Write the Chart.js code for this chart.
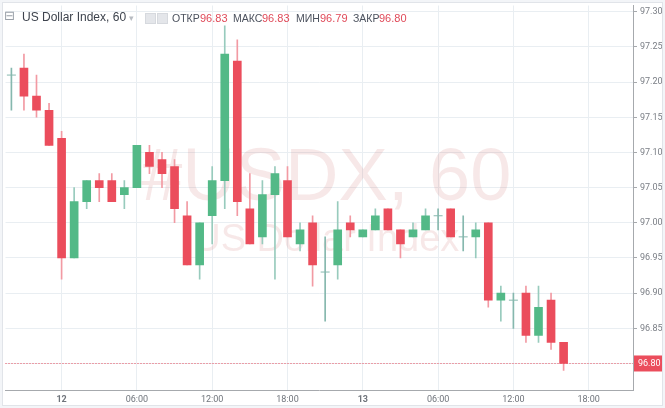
<!DOCTYPE html>
<html>
<head>
<meta charset="utf-8">
<script src="https://cdn.jsdelivr.net/npm/chart.js@4.4.0/dist/chart.umd.min.js"></script>
<style>
html, body { margin: 0; padding: 0; background: #fff; }
#wrap { position: relative; width: 665px; height: 408px; }
#hdr { position: absolute; left: 0; top: 0; width: 665px; height: 30px; pointer-events: none;
       font-family: "Liberation Sans", Arial, sans-serif; }
#hdr span { position: absolute; white-space: nowrap; line-height: 12px; }
.lbl { top: 12px; font-size: 10.5px; color: #4c525e; }
.val { top: 12px; font-size: 11px; color: #e04a59; }
.ico { top: 13px; width: 9px; height: 9px; background: #e4e6ea; border: 1px solid #d6d9de; }
</style>
</head>
<body>
<div id="wrap">
  <canvas id="myChart" width="665" height="408"></canvas>
  <div id="hdr">
    <span style="left:4px;top:10px;font-size:13px;color:#9aa0a8;font-family:'DejaVu Sans'">⊟</span>
    <span style="left:22px;top:11px;font-size:12px;color:#3d434d">US Dollar Index, 60</span>
    <span style="left:129px;top:12px;font-size:9px;color:#b8bcc2">▾</span>
    <span class="ico" style="left:145px"></span>
    <span class="ico" style="left:157px"></span>
    <span class="lbl" style="left:172px">ОТКР</span><span class="val" style="left:200px">96.83</span>
    <span class="lbl" style="left:233px">МАКС</span><span class="val" style="left:262px">96.83</span>
    <span class="lbl" style="left:296px">МИН</span><span class="val" style="left:320px">96.79</span>
    <span class="lbl" style="left:353px">ЗАКР</span><span class="val" style="left:379px">96.80</span>
  </div>
</div>
<script>
// hourly candles, hours counted from 12th 00:00
const hours  = [-4, -3, -2, -1, 0, 1, 2, 3, 4, 5, 6, 7, 8, 9, 10, 11, 12, 13, 14, 15, 16, 17, 18, 19, 20, 21, 22,
                23, 24, 25, 26, 27, 28, 29, 30, 31, 32, 33, 34, 35, 36, 37, 38, 39, 40];
const opens  = [97.21, 97.22, 97.18, 97.16, 97.12, 96.95, 97.03, 97.06, 97.06, 97.04, 97.05, 97.10, 97.09, 97.08, 97.01,
                96.94, 97.01, 97.06, 97.23, 97.02, 96.98, 97.04, 97.06, 96.97, 97.00, 96.93, 96.94, 97.00, 96.98, 96.99,
                97.02, 96.99, 96.98, 96.99, 97.01, 97.02, 96.98, 96.98, 97.00, 96.89, 96.89, 96.90, 96.84, 96.89, 96.83];
const highs  = [97.22, 97.24, 97.21, 97.17, 97.13, 97.05, 97.06, 97.07, 97.07, 97.06, 97.11, 97.11, 97.10, 97.09, 97.03,
                97.00, 97.08, 97.28, 97.26, 97.07, 97.06, 97.08, 97.08, 97.00, 97.01, 96.98, 97.03, 97.01, 96.99, 97.02,
                97.02, 96.99, 97.00, 97.02, 97.02, 97.02, 97.01, 97.00, 97.00, 96.91, 96.90, 96.91, 96.91, 96.90, 96.83];
const lows   = [97.16, 97.16, 97.15, 97.11, 96.92, 96.95, 97.02, 97.03, 97.03, 97.02, 97.05, 97.07, 97.05, 97.00, 96.94,
                96.92, 96.97, 97.02, 97.01, 96.97, 96.97, 96.92, 96.98, 96.96, 96.91, 96.86, 96.92, 96.98, 96.98, 96.99,
                96.99, 96.95, 96.98, 96.99, 96.99, 96.98, 96.96, 96.95, 96.88, 96.86, 96.85, 96.83, 96.83, 96.82, 96.79];
const closes = [97.21, 97.18, 97.16, 97.11, 96.95, 97.03, 97.06, 97.05, 97.03, 97.05, 97.11, 97.08, 97.07, 97.02, 96.94,
                97.00, 97.06, 97.24, 97.03, 96.97, 97.04, 97.07, 96.98, 96.99, 96.94, 96.93, 96.99, 96.99, 96.99, 97.01,
                96.99, 96.97, 96.99, 97.01, 97.01, 96.98, 96.98, 96.99, 96.89, 96.90, 96.89, 96.84, 96.88, 96.83, 96.80];

const priceTicks = [96.80, 96.85, 96.90, 96.95, 97.00, 97.05, 97.10, 97.15, 97.20, 97.25, 97.30];
const timeTicks  = [0, 6, 12, 18, 24, 30, 36, 42];
const timeLabels = ['12', '06:00', '12:00', '18:00', '13', '06:00', '12:00', '18:00'];

const UP = '#53b987', DOWN = '#eb4d5c';
const UP_WICK = '#98cbbd', DOWN_WICK = '#f29aa3', DOJI = '#86b8ae';
const FONT = "Roboto, 'Liberation Sans', sans-serif";

let bodies = [], bodyColors = [], wicks = [], wickColors = [], dojis = [];
hours.forEach((h, i) => {
    let o = opens[i], c = closes[i];
    wicks.push({x: h, y: [lows[i], highs[i]]});
    if (o === c) {
        dojis.push({x: h, y: o});
        wickColors.push(DOJI);
    } else {
        bodies.push({x: h, y: [o, c]});
        bodyColors.push(c > o ? UP : DOWN);
        wickColors.push(c > o ? UP_WICK : DOWN_WICK);
    }
});
const lastClose = closes[closes.length - 1];

const decor = {
    id: 'decor',
    beforeDraw(chart) {
        const ctx = chart.ctx;
        ctx.save();
        ctx.fillStyle = '#f3f5f8';
        ctx.fillRect(0, 0, chart.width, chart.height);
        ctx.fillStyle = '#fff';
        ctx.fillRect(3, 3, chart.width - 6, chart.height - 6);
        ctx.restore();
    },
    beforeDatasetsDraw(chart) {
        const ctx = chart.ctx, a = chart.chartArea;
        const cx = (a.left + a.right) / 2 + 7;
        ctx.save();
        ctx.fillStyle = 'rgba(200, 90, 90, 0.14)';
        ctx.textAlign = 'center';
        ctx.textBaseline = 'alphabetic';
        ctx.font = "74px 'Liberation Sans', Arial, sans-serif";
        ctx.fillText('#USDX, 60', cx, 200);
        ctx.font = "38px 'Liberation Sans', Arial, sans-serif";
        ctx.fillText('US Dollar Index', cx, 251);
        ctx.restore();
    },
    afterDatasetsDraw(chart) {
        const ctx = chart.ctx, a = chart.chartArea;
        const y = Math.round(chart.scales.y.getPixelForValue(lastClose)) + 0.5;
        ctx.save();
        ctx.strokeStyle = '#eb4d5c';
        ctx.lineWidth = 1;
        ctx.setLineDash([1, 2]);
        ctx.beginPath();
        ctx.moveTo(a.left, y);
        ctx.lineTo(a.right, y);
        ctx.stroke();
        ctx.restore();
    },
    afterDraw(chart) {
        const ctx = chart.ctx, a = chart.chartArea;
        const y = chart.scales.y.getPixelForValue(lastClose);
        ctx.save();
        ctx.fillStyle = '#eb4d5c';
        ctx.fillRect(a.right + 1, y - 8, chart.width - a.right - 3, 16);
        ctx.fillStyle = '#fff';
        ctx.font = '9px ' + FONT;
        ctx.textBaseline = 'middle';
        ctx.fillText(lastClose.toFixed(2), a.right + 5, y + 0.5);
        ctx.strokeStyle = '#e1e4e9';
        ctx.strokeRect(2.5, 2.5, chart.width - 5, chart.height - 5);
        ctx.restore();
    }
};

var ctx = document.getElementById('myChart').getContext('2d');
var myChart = new Chart(ctx, {
    type: 'bar',
    data: {
        datasets: [{
            label: 'dojis',
            type: 'line',
            data: dojis,
            showLine: false,
            pointStyle: 'line',
            pointRadius: 4.5,
            pointBorderWidth: 1,
            pointBorderColor: DOJI,
            order: 1
        }, {
            label: 'bodies',
            data: bodies,
            backgroundColor: bodyColors,
            barThickness: 8,
            grouped: false,
            order: 2
        }, {
            label: 'wicks',
            data: wicks,
            backgroundColor: wickColors,
            barThickness: 1,
            grouped: false,
            order: 3
        }]
    },
    options: {
        responsive: false,
        animation: false,
        layout: { padding: { left: 3, top: 3, right: 0, bottom: 0 } },
        plugins: { legend: { display: false }, tooltip: { enabled: false } },
        scales: {
            x: {
                type: 'linear',
                offset: false,
                min: -4.47,
                max: 45.53,
                afterBuildTicks: s => { s.ticks = timeTicks.map(v => ({value: v})); },
                afterFit: s => { s.height = 18; s.paddingLeft = 0; s.paddingRight = 0; },
                grid: { color: '#e9eef2', drawTicks: false, offset: false },
                border: { color: '#a6a9ad' },
                ticks: {
                    padding: 4,
                    color: '#6f747b',
                    maxRotation: 0,
                    autoSkip: false,
                    font: c => ({ family: FONT, size: 9, weight: (c.tick && c.tick.value % 24 === 0) ? 'bold' : 'normal' }),
                    callback: v => timeLabels[timeTicks.indexOf(v)]
                }
            },
            y: {
                type: 'linear',
                position: 'right',
                min: 96.7623,
                max: 97.3089,
                afterBuildTicks: s => { s.ticks = priceTicks.map(v => ({value: v})); },
                afterFit: s => { s.width = 32; s.paddingTop = 0; s.paddingBottom = 0; },
                grid: { color: '#e9eef2', tickLength: 4, tickColor: '#a6a9ad' },
                border: { color: '#a6a9ad' },
                ticks: {
                    padding: 3,
                    color: '#7a7e85',
                    font: { family: FONT, size: 9 },
                    callback: v => Number(v).toFixed(2)
                }
            }
        }
    },
    plugins: [decor]
});
</script>
</body>
</html>
